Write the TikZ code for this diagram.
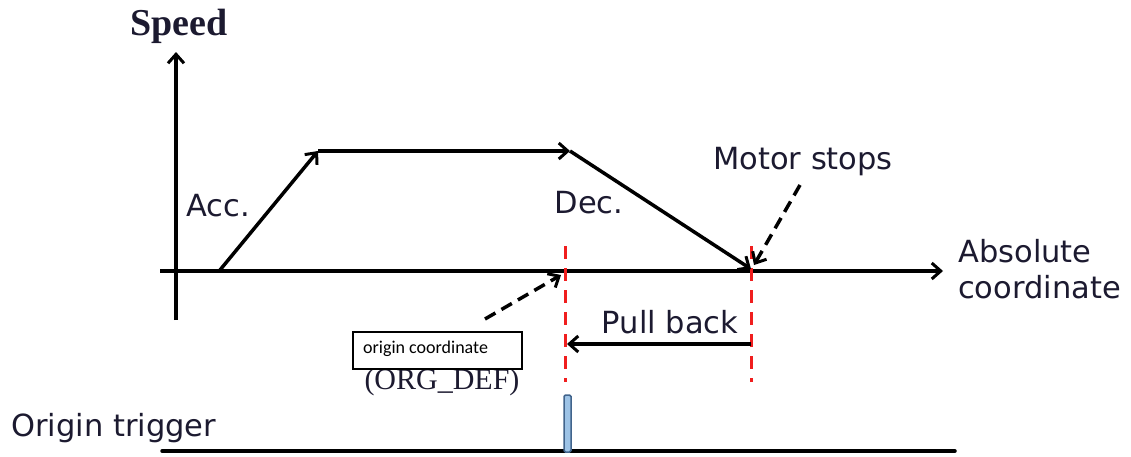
\documentclass[tikz,border=0pt]{standalone}
\usepackage{fontspec}
\setmainfont{DejaVu Sans}
\newfontfamily\timesf{Liberation Serif}
\newfontfamily\calf{Carlito}
\usetikzlibrary{arrows.meta}
\definecolor{txt}{RGB}{28,26,48}
\definecolor{reddash}{RGB}{240,30,30}
\definecolor{pulsefill}{RGB}{157,195,230}
\definecolor{pulsedraw}{RGB}{65,100,140}
\begin{document}
\begin{tikzpicture}[x=1pt,y=-1pt,
  lbl/.style={font=\fontsize{30.5}{36}\selectfont, text=txt, inner sep=0pt},
  tip/.style={-{Straight Barb[length=9pt,width=16pt,line width=3pt]}},
  axisline/.style={line width=3.5pt, tip},
  profile/.style={line width=3.5pt, tip},
  pointer/.style={line width=3.5pt, dash pattern=on 12pt off 7pt, tip},
  marker/.style={line width=3pt, draw=reddash, dash pattern=on 13pt off 9pt},
]
\useasboundingbox (0,0) rectangle (1131,456);

% labels
\node[text=txt, font=\timesf\bfseries\fontsize{38}{42}\selectfont, inner sep=0pt] (speed) at (179,26) {Speed};
\node[lbl] (acc) at (218,206) {Acc.};
\node[lbl] (dec) at (589,203) {Dec.};
\node[lbl] (motor) at (803,162) {Motor stops};
\node[lbl, align=left, anchor=west] (abs) at (958,269) {Absolute\\coordinate};
\node[lbl] (pull) at (670,322) {Pull back};
\node[lbl, anchor=west] (trig) at (11,428) {Origin trigger};
\node[text=txt, font=\timesf\fontsize{30}{34}\selectfont, inner sep=0pt] (orgdef) at (442,382) {(ORG\_DEF)};
\node[draw=black, fill=white, line width=1.5pt, minimum width=169pt, minimum height=37pt,
      anchor=north west, inner sep=0pt] (box) at (352,331) {};
\node[font=\calf\fontsize{18}{22}\selectfont, anchor=west, inner sep=0pt] (boxtxt) at (363,349) {origin coordinate};

% coordinates
\coordinate (ybot) at (176,320);
\coordinate (ytop) at (176,52);
\coordinate (xl) at (160,271);
\coordinate (xr) at (943,271);
\coordinate (p0) at (220,270);
\coordinate (p1) at (318,151);
\coordinate (p2) at (570,151);
\coordinate (p3) at (751,269);
\coordinate (r1t) at (565,246);
\coordinate (r1b) at (565,382);
\coordinate (r2t) at (751,246);
\coordinate (r2b) at (751,382);
\coordinate (pbs) at (751,344);
\coordinate (pbe) at (567,344);
\coordinate (o1) at (485,319);
\coordinate (o2) at (561,275);
\coordinate (m1) at (800,185);
\coordinate (m2) at (754,265);
\coordinate (tl) at (162,451);
\coordinate (tr) at (955,451);

% axes
\draw[axisline] (ybot) -- (ytop);
\draw[axisline] (xl) -- (xr);

% red markers
\draw[marker] (r1t) -- (r1b);
\draw[marker] (r2t) -- (r2b);

% speed profile
\draw[profile] (p0) -- (p1);
\draw[profile] (p1) -- (p2);
\draw[profile] (p2) -- (p3);

% pull back
\draw[profile] (pbs) -- (pbe);

% dashed pointers
\draw[pointer] (o1) -- (o2);
\draw[pointer] (m1) -- (m2);

% origin trigger
\draw[line width=3.5pt, line cap=round] (tl) -- (tr);
\draw[fill=pulsefill, draw=pulsedraw, line width=1.5pt, rounded corners=1.5pt] (564,395) rectangle (571,452);
\end{tikzpicture}
\end{document}
